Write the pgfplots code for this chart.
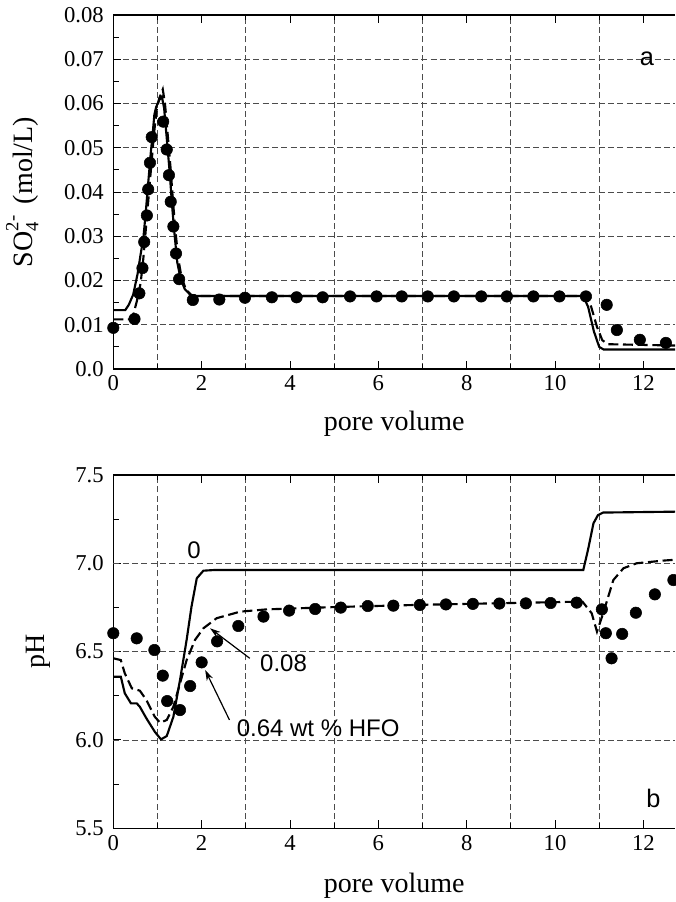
\documentclass[border=0pt]{standalone}
\usepackage{pgfplots}
\pgfplotsset{compat=1.18}
\usepackage{fontspec}
\setmainfont{Liberation Serif}
\newfontfamily\sansf{Liberation Sans}
\usetikzlibrary{arrows.meta}

\pgfplotsset{
  mystyle/.style={
    scale only axis,
    width=421.4pt,
    height=265.5pt,
    xmin=0, xmax=12.72,
    axis x line*=box,
    axis y line*=left,
    axis line style={line width=0.9pt},
    xtick={0,2,...,12},
    minor xtick={1,3,...,11},
    xminorgrids,
    ymajorgrids,
    scaled y ticks=false,
    scaled x ticks=false,
    grid style={black!70, line width=0.6pt, dash pattern=on 4.5pt off 2.5pt},
    major tick length=6pt,
    minor tick length=4pt,
    every tick/.style={black, line width=0.7pt},
    tick align=inside,
    /pgf/number format/assume math mode=true,
    tick label style={font=\fontsize{17}{19}\selectfont, inner sep=2pt},
    xticklabel style={yshift=-3pt},
    yticklabel style={xshift=-5pt},
    label style={font=\fontsize{21}{24}\selectfont},
    clip=true,
  },
  solidc/.style={black, line width=1.6pt},
  dashc/.style={black, line width=1.6pt, dash pattern=on 7.5pt off 3.5pt},
  pts/.style={only marks, mark=*, mark size=4.3pt, mark options={fill=black, draw=black}},
}

\begin{document}
\begin{tikzpicture}
\useasboundingbox (0,0) rectangle (506.25pt,676.5pt);

% ---------------- panel a ----------------
\begin{axis}[mystyle,
  at={(84.975pt,399.75pt)}, anchor=south west,
  ymin=0, ymax=0.08,
  ytick={0,0.01,...,0.08},
  yticklabels={0.0,0.01,0.02,0.03,0.04,0.05,0.06,0.07,0.08},
  minor y tick num=1,
  xlabel={pore volume},
  xlabel style={at={(axis description cs:0.5,0)}, anchor=center, yshift=-41pt},
  ylabel={SO\rlap{\raisebox{-0.45ex}{\fontsize{14}{14}\selectfont 4}}\raisebox{1.1ex}{\fontsize{14}{14}\selectfont 2-}\, (mol/L)},
  ylabel style={at={(axis description cs:-0.162,0.5)}, anchor=center},
]
% model, 0 wt% HFO (solid)
\addplot[solidc] coordinates {
(0,0.0133) (0.27,0.0133) (0.35,0.0145) (0.45,0.0168) (0.55,0.0215) (0.62,0.026)
(0.68,0.0295) (0.74,0.036) (0.79,0.042) (0.85,0.049) (0.89,0.0530) (0.93,0.0575)
(0.97,0.0592) (1.04,0.0608) (1.10,0.0615) (1.15,0.059) (1.22,0.051) (1.28,0.044)
(1.33,0.037) (1.39,0.030) (1.45,0.024) (1.52,0.0205) (1.62,0.0180) (1.75,0.0167)
(1.90,0.0165) (5,0.0165) (10.64,0.0165) (10.75,0.0140) (10.88,0.0085) (11.00,0.0050)
(11.10,0.0044) (12.72,0.0044)
};
% model, 0.08 wt% HFO (dashed)
\addplot[dashc] coordinates {
(0,0.0112) (0.38,0.0112) (0.46,0.0125) (0.55,0.0160) (0.62,0.0195) (0.68,0.025)
(0.74,0.032) (0.80,0.039) (0.86,0.046) (0.92,0.053) (0.98,0.0585) (1.04,0.0612)
(1.12,0.0632) (1.17,0.0600) (1.24,0.052) (1.30,0.045) (1.35,0.038) (1.41,0.031)
(1.47,0.025) (1.54,0.0210) (1.64,0.0180) (1.77,0.0167) (1.92,0.0165) (5,0.0165)
(10.70,0.0165) (10.82,0.0140) (10.95,0.0095) (11.07,0.0065) (11.20,0.0056) (12.72,0.0053)
};
% measured
\addplot[pts] coordinates {
(0,0.0093) (0.48,0.0113) (0.59,0.0171) (0.66,0.0228) (0.70,0.0287) (0.76,0.0347)
(0.79,0.0406) (0.83,0.0466) (0.87,0.0524) (1.13,0.0559) (1.21,0.0496) (1.26,0.0438)
(1.30,0.0378) (1.36,0.0322) (1.42,0.0261) (1.49,0.0203) (1.80,0.0156) (2.40,0.0157)
(2.98,0.0161) (3.59,0.0162) (4.15,0.0162) (4.74,0.0162) (5.36,0.0164) (5.96,0.0164)
(6.53,0.0164) (7.12,0.0164) (7.71,0.0164) (8.33,0.0164) (8.91,0.0164) (9.51,0.0164)
(10.10,0.0164) (10.70,0.0164) (11.17,0.0145) (11.40,0.0088) (11.92,0.0066) (12.51,0.0059)
};
\node[font=\sansf\fontsize{19}{21}\selectfont] at (axis cs:12.08,0.0701) {a};
\end{axis}

% ---------------- panel b ----------------
\begin{axis}[mystyle,
  at={(84.975pt,55.3pt)}, anchor=south west,
  height=265pt,
  ymin=5.5, ymax=7.5,
  ytick={5.5,6.0,6.5,7.0,7.5},
  yticklabels={5.5,6.0,6.5,7.0,7.5},
  minor y tick num=1,
  ymajorgrids=false,
  extra y ticks={6.0,6.5,7.0},
  extra y tick labels={},
  extra y tick style={ymajorgrids=true, major tick length=0pt},
  xlabel={pore volume},
  xlabel style={at={(axis description cs:0.5,0)}, anchor=center, yshift=-43.5pt},
  ylabel={pH},
  ylabel style={at={(axis description cs:-0.133,0.5)}, anchor=center},
]
% model 0 wt% (solid)
\addplot[solidc] coordinates {
(0,6.358) (0.17,6.358) (0.26,6.264) (0.40,6.207) (0.53,6.207) (0.60,6.188)
(0.75,6.122) (0.94,6.046) (1.08,6.003) (1.21,6.022) (1.36,6.131) (1.51,6.339)
(1.66,6.566) (1.77,6.754) (1.89,6.915) (2.04,6.958) (2.3,6.962) (10.64,6.962)
(10.75,7.08) (10.87,7.226) (10.97,7.272) (11.09,7.287) (12.72,7.292)
};
% model 0.08 wt% (dashed)
\addplot[dashc] coordinates {
(0,6.462) (0.17,6.452) (0.26,6.377) (0.42,6.292) (0.60,6.279) (0.75,6.226)
(0.94,6.131) (1.06,6.097) (1.21,6.113) (1.36,6.188) (1.51,6.320) (1.66,6.452)
(1.85,6.566) (2.04,6.632) (2.34,6.689) (2.87,6.726) (3.47,6.739) (5.0,6.752)
(7.0,6.765) (9.0,6.775) (10.62,6.783) (10.83,6.717) (10.95,6.613) (11.09,6.717)
(11.32,6.905) (11.55,6.972) (11.85,7.000) (12.45,7.015) (12.72,7.020)
};
% measured
\addplot[pts] coordinates {
(0,6.604) (0.53,6.575) (0.93,6.509) (1.12,6.364) (1.22,6.220) (1.51,6.169)
(1.74,6.305) (2.00,6.439) (2.35,6.558) (2.83,6.645) (3.40,6.698) (3.98,6.732)
(4.57,6.741) (5.15,6.749) (5.76,6.758) (6.34,6.760) (6.94,6.764) (7.53,6.767)
(8.14,6.770) (8.74,6.772) (9.34,6.773) (9.90,6.775) (10.49,6.777) (11.06,6.739)
(11.15,6.604) (11.28,6.462) (11.52,6.600) (11.83,6.720) (12.26,6.824) (12.68,6.905)
};
\node[font=\sansf\fontsize{18}{20}\selectfont] at (axis cs:1.83,7.075) {0};
\node[font=\sansf\fontsize{18}{20}\selectfont, anchor=west, inner sep=0pt] at (axis cs:3.32,6.434) {0.08};
\node[font=\sansf\fontsize{18}{20}\selectfont, anchor=west, inner sep=0pt] at (axis cs:2.79,6.066) {0.64 wt \% HFO};
\draw[line width=0.9pt, -{Stealth[length=8pt,width=5pt]}] (axis cs:3.09,6.462) -- (axis cs:2.19,6.632);
\draw[line width=0.9pt, -{Stealth[length=8pt,width=5pt]}] (axis cs:2.63,6.113) -- (axis cs:2.08,6.396);
\node[font=\sansf\fontsize{19}{21}\selectfont] at (axis cs:12.23,5.67) {b};
\end{axis}
\end{tikzpicture}
\end{document}
